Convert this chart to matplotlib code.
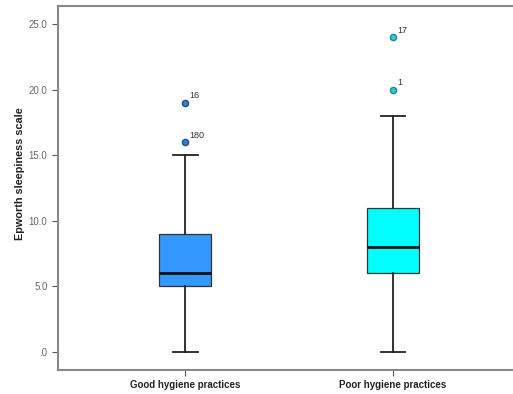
import matplotlib
matplotlib.use('Agg')
import matplotlib.pyplot as plt

plt.rcParams['font.family'] = ['Liberation Sans', 'DejaVu Sans']

# box summary
groups = ["Good hygiene practices", "Poor hygiene practices"]
q1 = [5.0, 6.0]
medians = [6.0, 8.0]
q3 = [9.0, 11.0]
whisker_low = [0.0, 0.0]
whisker_high = [15.0, 18.0]
outliers = [[16.0, 19.0], [20.0, 24.0]]
outlier_ids = [["180", "16"], ["1", "17"]]
box_colors = ["#3399ff", "#00ffff"]
flier_faces = ["#3a7fd0", "#33cccc"]
flier_edges = ["#1f4f8a", "#1a8a8a"]

stats = []
for i, name in enumerate(groups):
    stats.append({
        "label": name,
        "q1": q1[i], "med": medians[i], "q3": q3[i],
        "whislo": whisker_low[i], "whishi": whisker_high[i],
        "fliers": [],
    })

fig = plt.figure(figsize=(5.13, 3.94), dpi=100)
ax = fig.add_axes([0.113, 0.061, 0.887, 0.924])

bp = ax.bxp(stats, positions=[1, 2], widths=0.25, patch_artist=True,
            showfliers=False,
            boxprops=dict(linewidth=0.9, edgecolor="#333333"),
            medianprops=dict(color="#111111", linewidth=2.0),
            whiskerprops=dict(color="#222222", linewidth=1.3),
            capprops=dict(color="#222222", linewidth=1.3),
            capwidths=0.12)
for patch, c in zip(bp["boxes"], box_colors):
    patch.set_facecolor(c)

for i in range(len(groups)):
    pos = i + 1
    ax.scatter([pos] * len(outliers[i]), outliers[i], s=20,
               facecolor=flier_faces[i], edgecolor=flier_edges[i],
               linewidth=1.0, zorder=3)
    for v, lab in zip(outliers[i], outlier_ids[i]):
        ax.annotate(lab, (pos, v), xytext=(3, 3), textcoords="offset points",
                    fontsize=6.5, color="#333333")

ax.set_xlim(0.389, 2.577)
ax.set_ylim(-1.37, 26.37)
ax.set_yticks([0, 5, 10, 15, 20, 25])
ax.set_yticklabels([".0", "5.0", "10.0", "15.0", "20.0", "25.0"])
ax.set_xticks([1, 2])
ax.set_xticklabels(groups, fontweight="bold", fontsize=7, color="#222222")
ax.tick_params(axis="y", labelsize=7, labelcolor="#666666", length=4,
               color="#555555")
ax.tick_params(axis="x", length=4, color="#555555")
ax.set_ylabel("Epworth sleepiness scale", fontweight="bold", fontsize=7.8,
              color="#222222")
ax.yaxis.set_label_coords(-0.072, 0.54)

for side in ["left", "bottom", "top"]:
    ax.spines[side].set_color("#888888")
    ax.spines[side].set_linewidth(1.5)
ax.spines["right"].set_visible(False)

fig.savefig("out.png", dpi=100)
